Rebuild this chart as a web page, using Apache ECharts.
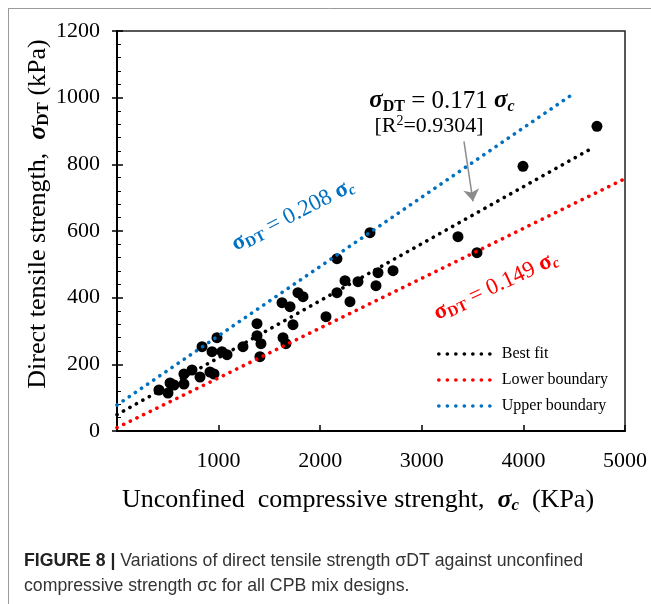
<!DOCTYPE html>
<html>
<head>
<meta charset="utf-8">
<script src="https://cdn.jsdelivr.net/npm/echarts@6/dist/echarts.min.js"></script>
<style>
html,body{margin:0;padding:0;background:#fff;}
#chart{width:651px;height:604px;}
</style>
</head>
<body>
<div id="chart"></div>
<script>
// ---- data ----
var ucs = [413, 502, 522, 561, 659, 659, 738, 817, 915, 955, 837, 935, 984, 1033, 1083, 1240,
           1378, 1378, 1417, 1407, 1624, 1703, 1732, 1634, 1663, 1781, 1831, 2057, 2165, 2244,
           2372, 2165, 2293, 2490, 2549, 2569, 2717, 3356, 3543, 3996, 4724];
var dts = [123, 114, 144, 138, 141, 171, 183, 162, 177, 171, 253, 238, 280, 238, 229, 253,
           322, 286, 262, 223, 385, 373, 319, 280, 262, 415, 403, 343, 517, 451,
           448, 415, 388, 595, 436, 475, 481, 583, 535, 794, 914];
var bestFitLine = [[0, 49], [4655, 845]];
var lowerLine   = [[0, 10], [5000, 757]];
var upperLine   = [[0, 78], [4459, 1005]];
var arrowCoords = [[3415, 869], [3504, 689]];
var xTicks = {min: 0, max: 5000, step: 1000};
var yTicks = {min: 0, max: 1200, step: 200};
var legendNames = ['Best fit', 'Lower boundary', 'Upper boundary'];

var SERIF = '"Liberation Serif","Times New Roman",serif';
var SANS = '"Liberation Sans Narrow","Liberation Sans",Arial,sans-serif';
var scatterData = ucs.map(function (x, i) { return [x, dts[i]]; });

function eqRich(color, size) {
  var sub = Math.round(size * 0.64);
  return {
    s:  {fontFamily: SERIF, fontSize: size, fontWeight: 'bold', fontStyle: 'italic', fill: color, color: color},
    su: {fontFamily: SERIF, fontSize: size, fontWeight: 'bold', fill: color, color: color},
    d:  {fontFamily: SERIF, fontSize: sub, fontWeight: 'bold', fill: color, color: color, padding: [Math.round(size * 0.45), 0, 0, 0]},
    c:  {fontFamily: SERIF, fontSize: sub, fontWeight: 'bold', fontStyle: 'italic', fill: color, color: color, padding: [Math.round(size * 0.45), 0, 0, 0]},
    n:  {fontFamily: SERIF, fontSize: size, fill: color, color: color},
    sp: {fontFamily: SERIF, fontSize: sub, fill: color, color: color, padding: [0, 0, Math.round(size * 0.45), 0]}
  };
}

var dot = function (color) {
  return {color: color, width: 3.6, type: [0.1, 7.3], cap: 'round'};
};

var chart = echarts.init(document.getElementById('chart'), null, {renderer: 'canvas'});
chart.setOption({
  animation: false,
  backgroundColor: '#fff',
  grid: {left: 117, top: 31, right: 26, bottom: 173, show: true, borderColor: '#222', borderWidth: 1.5},
  xAxis: {
    type: 'value', min: xTicks.min, max: xTicks.max, interval: xTicks.step,
    axisLine: {lineStyle: {color: '#000', width: 2}},
    axisTick: {inside: true, length: 6, lineStyle: {color: '#000', width: 1.5}},
    axisLabel: {margin: 19, fontFamily: SERIF, fontSize: 22, color: '#000',
      formatter: function (v) { return v === 0 ? '' : String(v); }},
    splitLine: {show: false}
  },
  yAxis: [{
    type: 'value', min: yTicks.min, max: yTicks.max, interval: yTicks.step,
    axisLine: {lineStyle: {color: '#000', width: 2}},
    axisTick: {inside: true, length: 6, lineStyle: {color: '#000', width: 1.5}},
    minorTick: {show: true, splitNumber: 5, length: 4, lineStyle: {color: '#000', width: 1}},
    axisLabel: {margin: 17, fontFamily: SERIF, fontSize: 22, color: '#000',
      formatter: function (v) { return String(v); }},
    splitLine: {show: false}
  }, {
    type: 'value', min: yTicks.min, max: yTicks.max, interval: yTicks.step, position: 'left',
    axisLine: {show: false},
    axisTick: {inside: false, length: 5, lineStyle: {color: '#000', width: 1.5}},
    axisLabel: {show: false},
    splitLine: {show: false}
  }],
  legend: {
    orient: 'vertical', left: 432, top: 341, itemWidth: 58, itemHeight: 10, itemGap: 10,
    data: legendNames,
    itemStyle: {opacity: 0},
    lineStyle: {width: 3.6, type: [0.1, 8.4], cap: 'round'},
    textStyle: {fontFamily: SERIF, fontSize: 16, color: '#000'}
  },
  series: [
    {type: 'scatter', name: 'data', data: scatterData, symbolSize: 11,
     itemStyle: {color: '#000', opacity: 1}, z: 2},
    {type: 'line', name: legendNames[0], data: bestFitLine, showSymbol: false, symbol: 'none',
     lineStyle: dot('#000'), itemStyle: {color: '#000', opacity: 0}, z: 3},
    {type: 'line', name: legendNames[1], data: lowerLine, showSymbol: false, symbol: 'none',
     lineStyle: dot('#ff0000'), itemStyle: {color: '#ff0000', opacity: 0}, z: 3},
    {type: 'line', name: legendNames[2], data: upperLine, showSymbol: false, symbol: 'none',
     lineStyle: dot('#0070c0'), itemStyle: {color: '#0070c0', opacity: 0}, z: 3},
    {type: 'lines', coordinateSystem: 'cartesian2d', symbol: ['none', 'arrow'], symbolSize: [8, 12],
     lineStyle: {color: '#8c8c8c', width: 1.5, opacity: 1},
     data: [{coords: arrowCoords}], z: 4}
  ],
  graphic: [
    {type: 'line', shape: {x1: 8.5, y1: 8, x2: 8.5, y2: 604}, style: {stroke: '#9a9a9a', lineWidth: 1}},
    {type: 'line', shape: {x1: 8, y1: 8.5, x2: 651, y2: 8.5}, style: {stroke: '#9a9a9a', lineWidth: 1}},
    // Y axis title
    {type: 'text', x: 38, y: 214, rotation: Math.PI / 2,
     style: {text: '{n|Direct tensile strength,  }{s|σ}{d|DT}{n| (kPa)}', rich: eqRich('#000', 26),
       align: 'center', verticalAlign: 'middle'}},
    // X axis title
    {type: 'text', x: 358, y: 500,
     style: {text: '{n|Unconfined  compressive strenght,  }{s|σ}{c|c}{n|  (KPa)}', rich: eqRich('#000', 26),
       align: 'center', verticalAlign: 'middle'}},
    // best fit equation
    {type: 'text', x: 442, y: 101,
     style: {text: '{s|σ}{d|DT}{n| = 0.171 }{s|σ}{c|c}', rich: eqRich('#000', 25),
       align: 'center', verticalAlign: 'middle'}},
    {type: 'text', x: 429, y: 126,
     style: {text: '{n|[R}{sp|2}{n|=0.9304]}', rich: eqRich('#000', 22),
       align: 'center', verticalAlign: 'middle'}},
    // upper boundary equation
    {type: 'text', x: 293, y: 215, rotation: 27 * Math.PI / 180,
     style: {text: '{su|σ}{d|DT}{n| = 0.208 }{su|σ}{c|c}', rich: eqRich('#0070c0', 23),
       align: 'center', verticalAlign: 'middle'}},
    // lower boundary equation
    {type: 'text', x: 496, y: 286, rotation: 25 * Math.PI / 180,
     style: {text: '{su|σ}{d|DT}{n| = 0.149 }{su|σ}{c|c}', rich: eqRich('#ff0000', 23),
       align: 'center', verticalAlign: 'middle'}},
    // caption
    {type: 'text', x: 24, y: 561,
     style: {text: '{b|FIGURE 8 | }{t|Variations of direct tensile strength σDT against unconfined}',
       rich: {
         b: {fontFamily: SANS, fontSize: 17.7, fontWeight: 'bold', fill: '#222'},
         t: {fontFamily: SANS, fontSize: 17.7, fill: '#333'}
       }, align: 'left', verticalAlign: 'middle'}},
    {type: 'text', x: 24, y: 586,
     style: {text: 'compressive strength σc for all CPB mix designs.',
       font: '17.7px ' + SANS, fill: '#333',
       align: 'left', verticalAlign: 'middle'}}
  ]
});
</script>
</body>
</html>
